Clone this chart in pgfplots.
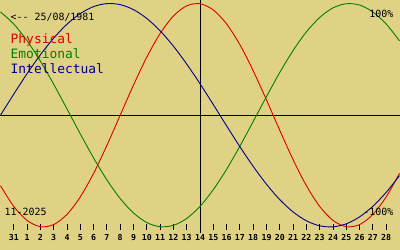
\documentclass[border=0pt]{standalone}
\usepackage{pgfplots}
\pgfplotsset{compat=1.18}
\usepackage{fontspec}
\setmonofont{DejaVu Sans Mono}
\definecolor{bg}{RGB}{224,210,132}
\definecolor{cphys}{RGB}{220,0,0}
\definecolor{cemo}{RGB}{0,128,0}
\definecolor{cint}{RGB}{0,0,140}
\begin{document}
\begin{tikzpicture}
\fill[bg] (0,-20bp) rectangle (400bp,230bp);
\begin{axis}[
  at={(0,0)}, anchor=south west,
  scale only axis, width=400bp, height=230bp,
  xmin=-1, xmax=29, ymin=-1.0268, ymax=1.0268,
  axis x line*=bottom, axis y line=none,
  x axis line style={draw=none},
  xtick={0,...,28},
  xticklabels={31,1,2,3,4,5,6,7,8,9,10,11,12,13,14,15,16,17,18,19,20,21,22,23,24,25,26,27,28},
  tick align=inside, major tick length=6bp,
  tick style={black, line width=0.9bp},
  xticklabel style={font=\fontsize{8.3}{9}\selectfont\ttfamily\bfseries, inner sep=0pt, yshift=-4bp},
  clip=false,
]
\draw[black, line width=1bp] (axis cs:-1,0) -- (axis cs:29,0);
\draw[black, line width=1bp] (axis cs:14,1.0268) -- (axis cs:14,-1.0536);
\addplot[cphys, line width=0.9bp, smooth] coordinates {
(-1,-0.631) (0,-0.817) (1,-0.942) (2,-0.998) (3,-0.979) (4,-0.888) (5,-0.731)
(6,-0.520) (7,-0.270) (8,0) (9,0.270) (10,0.520) (11,0.731) (12,0.888)
(13,0.979) (14,0.998) (15,0.942) (16,0.817) (17,0.631) (18,0.398) (19,0.136)
(20,-0.136) (21,-0.398) (22,-0.631) (23,-0.817) (24,-0.942) (25,-0.998)
(26,-0.979) (27,-0.888) (28,-0.731) (29,-0.520)};
\addplot[cemo, line width=0.9bp, smooth] coordinates {
(-1,0.924) (0,0.816) (1,0.666) (2,0.484) (3,0.277) (4,0.056) (5,-0.167)
(6,-0.383) (7,-0.579) (8,-0.746) (9,-0.875) (10,-0.961) (11,-0.998) (12,-0.986)
(13,-0.924) (14,-0.816) (15,-0.666) (16,-0.484) (17,-0.277) (18,-0.056) (19,0.167)
(20,0.383) (21,0.579) (22,0.746) (23,0.875) (24,0.961) (25,0.998)
(26,0.986) (27,0.924) (28,0.816) (29,0.666)};
\addplot[cint, line width=0.9bp, smooth] coordinates {
(-1,0) (0,0.189) (1,0.372) (2,0.541) (3,0.690) (4,0.815) (5,0.910)
(6,0.972) (7,0.999) (8,0.990) (9,0.945) (10,0.866) (11,0.756) (12,0.618)
(13,0.458) (14,0.282) (15,0.095) (16,-0.095) (17,-0.282) (18,-0.458) (19,-0.618)
(20,-0.756) (21,-0.866) (22,-0.945) (23,-0.990) (24,-0.999) (25,-0.972)
(26,-0.910) (27,-0.815) (28,-0.690) (29,-0.541)};
\end{axis}
\begin{scope}[every node/.style={inner sep=0pt}]
\node[anchor=base west, font=\fontsize{10}{12}\selectfont\ttfamily] at (10bp,209.5bp) {<-- 25/08/1981};
\node[anchor=base west, font=\fontsize{13}{15}\selectfont\ttfamily, text=cphys] at (10bp,187bp) {Physical};
\node[anchor=base west, font=\fontsize{13}{15}\selectfont\ttfamily, text=cemo] at (10bp,172bp) {Emotional};
\node[anchor=base west, font=\fontsize{13}{15}\selectfont\ttfamily, text=cint] at (10bp,157bp) {Intellectual};
\node[anchor=base east, font=\fontsize{10}{12}\selectfont\ttfamily] at (394bp,213bp) {100\%};
\node[anchor=base east, font=\fontsize{10}{12}\selectfont\ttfamily] at (394bp,14.5bp) {-100\%};
\node[anchor=base west, font=\fontsize{10}{12}\selectfont\ttfamily] at (4bp,14.5bp) {11-2025};
\end{scope}
\end{tikzpicture}
\end{document}
